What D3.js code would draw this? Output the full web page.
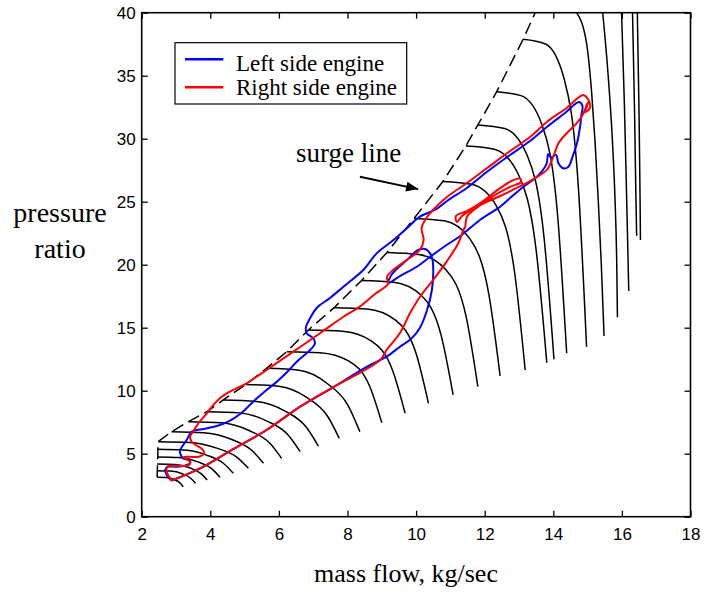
<!DOCTYPE html>
<html><head><meta charset="utf-8">
<script src="https://cdn.jsdelivr.net/npm/d3@7"></script>
<style>
body{margin:0;background:#fff;}
svg{display:block;}
</style></head><body>
<svg id="chart" width="704" height="594"></svg>
<script>
// ---------- data ----------
const xTicks = [2,4,6,8,10,12,14,16,18];
const yTicks = [0,5,10,15,20,25,30,35,40];
const xLabel = "mass flow, kg/sec";
const yLabelLines = ["pressure","ratio"];
const legendLabels = ["Left side engine","Right side engine"];
const surgeText = "surge line";
const surgeTextPos = [6.5, 28.17];
const arrowTail = [8.36, 26.98];
const arrowTip = [10.06, 26.0];

const surgeLine = [[2.45,3.13],[2.48,5.95],[2.87,6.75],[3.36,7.54],[3.90,8.33],[4.37,9.26],[5.04,10.49],[5.64,11.78],[6.23,13.10],[6.86,14.82],[7.61,16.59],[8.41,18.75],[9.15,20.97],[9.94,23.67],[10.78,26.60],[11.45,29.42],[11.80,31.09],[12.35,33.73],[13.12,37.89],[13.47,40]];

const speedLines = [
 [[2.45,3.13],[2.72,3.11],[2.94,2.95],[3.11,2.70],[3.21,2.38]],
 [[2.45,3.65],[2.84,3.62],[3.18,3.41],[3.42,3.07],[3.57,2.65]],
 [[2.45,4.18],[2.96,4.14],[3.40,3.88],[3.72,3.44],[3.91,2.91]],
 [[2.45,4.74],[3.09,4.69],[3.64,4.35],[4.04,3.81],[4.28,3.13]],
 [[2.45,5.35],[3.23,5.29],[3.89,4.89],[4.38,4.24],[4.67,3.44]],
 [[2.48,5.95],[3.40,5.89],[4.19,5.44],[4.77,4.73],[5.11,3.84]],
 [[2.87,6.75],[3.81,6.67],[4.61,6.15],[5.20,5.29],[5.55,4.24]],
 [[3.36,7.54],[4.31,7.45],[5.13,6.84],[5.73,5.85],[6.08,4.63]],
 [[3.90,8.33],[4.85,8.24],[5.67,7.57],[6.27,6.49],[6.62,5.16]],
 [[4.37,9.26],[5.34,9.15],[6.18,8.38],[6.79,7.14],[7.15,5.61]],
 [[5.04,10.49],[5.99,10.36],[6.81,9.47],[7.41,8.01],[7.76,6.22]],
 [[5.64,11.78],[6.59,11.63],[7.41,10.57],[8.01,8.86],[8.36,6.75]],
 [[6.23,13.10],[7.20,13.02],[8.03,12.37],[8.64,10.39],[9.00,7.46]],
 [[6.86,14.82],[7.85,14.72],[8.69,13.96],[9.31,11.65],[9.68,8.21]],
 [[7.61,16.59],[8.57,16.48],[9.40,15.60],[10.00,12.95],[10.36,9.00]],
 [[8.41,18.75],[9.35,18.61],[10.15,17.57],[10.73,14.39],[11.08,9.66]],
 [[9.15,20.97],[10.08,20.81],[10.87,19.59],[11.46,15.86],[11.80,10.32]],
 [[9.94,23.67],[10.82,23.48],[11.57,22.05],[12.12,17.67],[12.45,11.17]],
 [[10.78,26.60],[11.62,26.38],[12.34,24.66],[12.87,19.42],[13.18,11.64]],
 [[11.45,29.42],[12.28,29.16],[12.98,27.18],[13.50,21.16],[13.81,12.22]],
 [[11.80,31.09],[12.58,30.81],[13.24,28.67],[13.73,22.16],[14.02,12.49]],
 [[12.35,33.73],[13.06,33.42],[13.68,31.03],[14.13,23.77],[14.39,12.97]],
 [[13.12,37.89],[13.77,37.52],[14.32,34.72],[14.73,26.18],[14.97,13.49]],
 [[14.68,40],[14.97,37.57],[15.12,33.6],[15.22,29.63],[15.31,25.13],[15.40,20.0],[15.48,14.34]],
 [[15.44,40],[15.60,35],[15.72,30],[15.80,25.13],[15.85,20],[15.87,15.83]],
 [[15.99,40],[16.07,33],[16.14,25.13],[16.20,17.91]],
 [[16.31,40],[16.37,32],[16.41,25.13],[16.43,22.3]],
 [[16.45,40],[16.50,32],[16.53,25.13],[16.54,21.96]]
];

const leftEngine = [[2.87,2.86],[2.73,3.31],[2.68,3.71],[2.78,3.97],[3.02,3.97],[3.26,4.05],[3.41,4.24],[3.39,4.50],[3.21,4.63],[3.12,5.03],[3.12,5.29],[3.21,5.69],[3.31,6.09],[3.46,6.75],[3.75,6.94],[4.19,7.20],[4.52,7.54],[4.87,8.15],[5.25,9.13],[5.64,10.06],[5.94,10.71],[6.24,11.48],[6.52,12.30],[6.91,13.23],[7.05,13.76],[7.00,14.16],[6.81,14.56],[6.79,15.08],[6.91,15.75],[7.10,16.56],[7.49,17.36],[7.88,18.25],[8.46,19.58],[8.85,20.90],[9.34,21.96],[9.73,22.89],[10.11,23.81],[10.60,24.42],[10.90,25.06],[11.48,26.09],[12.06,27.36],[12.74,28.71],[13.32,29.82],[13.81,30.93],[14.34,32.04],[14.75,32.91],[14.85,32.60],[14.82,31.88],[14.78,30.95],[14.69,29.63],[14.56,28.55],[14.44,27.78],[14.29,27.65],[14.15,28.05],[14.08,28.71],[13.93,28.51],[13.85,28.79],[13.80,27.99],[13.52,26.98],[13.13,26.19],[12.74,25.29],[12.45,24.60],[11.86,23.55],[11.33,22.36],[10.89,21.56],[10.41,20.63],[10.02,19.84],[9.53,19.10],[9.18,18.52],[9.30,19.26],[9.73,20.37],[10.06,21.17],[10.26,21.25],[10.45,20.69],[10.50,19.58],[10.46,17.99],[10.32,16.40],[10.11,14.98],[9.85,14.10],[9.53,13.49],[9.14,12.70],[8.56,11.90],[7.59,10.29],[6.62,8.73],[5.64,6.88],[4.57,5.21],[3.70,3.83],[2.87,2.86]];

const rightEngine = [[2.87,2.86],[2.73,3.57],[2.74,3.97],[3.12,4.02],[3.36,4.06],[3.41,4.37],[3.26,4.63],[3.23,4.74],[3.67,4.76],[3.82,5.03],[3.76,5.37],[3.60,5.65],[3.46,5.95],[3.41,6.35],[3.50,6.75],[3.64,7.36],[3.90,8.21],[4.09,8.87],[4.28,9.40],[4.48,9.79],[4.77,10.19],[5.06,10.59],[5.35,11.11],[5.64,11.64],[6.42,13.10],[7.20,14.56],[7.88,15.87],[8.36,16.67],[8.80,17.67],[9.18,18.47],[9.15,19.02],[9.33,19.58],[9.73,20.37],[10.11,21.17],[10.22,21.96],[10.16,22.91],[10.32,23.79],[10.49,24.34],[10.90,25.37],[11.48,26.48],[12.07,27.67],[12.74,29.02],[13.32,30.13],[13.81,31.33],[14.39,32.44],[14.87,33.47],[15.01,33.15],[15.07,32.44],[14.92,32.12],[15.04,32.99],[14.90,32.04],[14.98,32.75],[14.87,31.96],[14.68,31.22],[14.39,30.43],[14.15,29.63],[14.00,28.57],[13.81,27.52],[13.42,26.80],[12.93,26.09],[12.45,25.45],[12.06,24.98],[11.63,24.40],[11.34,23.87],[11.19,23.39],[11.16,23.87],[11.48,24.26],[11.87,24.89],[12.45,26.08],[12.83,26.71],[13.03,26.84],[13.06,26.56],[12.74,26.17],[12.16,25.29],[11.72,24.42],[11.48,23.79],[11.43,22.99],[11.38,22.75],[11.23,21.70],[10.89,20.24],[10.50,18.79],[10.11,17.44],[9.82,16.14],[9.53,14.58],[9.14,13.23],[8.95,12.44],[7.59,10.29],[6.62,8.73],[5.64,6.88],[4.57,5.21],[3.70,3.83],[2.87,2.86]];

// ---------- drawing ----------
const svg = d3.select("#chart");
const M = {left:141.7, right:690.5, top:12.7, bottom:516.7};
const x = d3.scaleLinear().domain([2,18]).range([M.left, M.right]);
const y = d3.scaleLinear().domain([0,40]).range([M.bottom, M.top]);
const serif = "'Liberation Serif','Times New Roman',Times,serif";
const sans = "'Liberation Sans',Arial,Helvetica,sans-serif";

const defs = svg.append("defs");
defs.append("clipPath").attr("id","clip").append("rect")
  .attr("x",M.left).attr("y",M.top).attr("width",M.right-M.left).attr("height",M.bottom-M.top);
defs.append("marker").attr("id","arrowhead").attr("viewBox","0 0 12 10")
  .attr("refX",12).attr("refY",5).attr("markerWidth",13).attr("markerHeight",10)
  .attr("markerUnits","userSpaceOnUse").attr("orient","auto")
  .append("path").attr("d","M0,0L12,5L0,10Z").attr("fill","#000");

const plot = svg.append("g").attr("clip-path","url(#clip)");

const mono = d3.line().x(d=>x(d[0])).y(d=>y(d[1])).curve(d3.curveMonotoneX);
plot.selectAll("path.speed").data(speedLines).join("path").attr("class","speed")
  .attr("d",mono).attr("fill","none").attr("stroke","#000").attr("stroke-width",1.5);

const lin = d3.line().x(d=>x(d[0])).y(d=>y(d[1]));
plot.append("path").attr("d",lin(surgeLine)).attr("fill","none").attr("stroke","#000")
  .attr("stroke-width",1.5).attr("stroke-dasharray","12,6");

const traj = d3.line().x(d=>x(d[0])).y(d=>y(d[1])).curve(d3.curveCatmullRom.alpha(0.5));
plot.append("path").attr("d",traj(leftEngine)).attr("fill","none").attr("stroke","#0000ff")
  .attr("stroke-width",2).attr("stroke-linejoin","round");
plot.append("path").attr("d",traj(rightEngine)).attr("fill","none").attr("stroke","#ff0000")
  .attr("stroke-width",2).attr("stroke-linejoin","round");

// axes
function styleAxis(g){
  g.select(".domain").remove();
  g.selectAll(".tick line").attr("stroke","#000").attr("stroke-width",1.3);
  g.selectAll(".tick text").attr("font-family",sans).attr("font-size",17).attr("fill","#000");
}
svg.append("g").attr("transform",`translate(0,${M.bottom})`)
  .call(d3.axisBottom(x).tickValues(xTicks).tickSizeInner(-6).tickSizeOuter(0).tickPadding(11).tickFormat(d3.format("d")))
  .call(styleAxis);
svg.append("g").attr("transform",`translate(0,${M.top})`)
  .call(d3.axisTop(x).tickValues(xTicks).tickSizeInner(-6).tickSizeOuter(0).tickFormat(""))
  .call(styleAxis);
svg.append("g").attr("transform",`translate(${M.left},0)`)
  .call(d3.axisLeft(y).tickValues(yTicks).tickSizeInner(-6).tickSizeOuter(0).tickPadding(6).tickFormat(d3.format("d")))
  .call(styleAxis);
svg.append("g").attr("transform",`translate(${M.right},0)`)
  .call(d3.axisRight(y).tickValues(yTicks).tickSizeInner(-6).tickSizeOuter(0).tickFormat(""))
  .call(styleAxis);
svg.append("rect").attr("x",M.left).attr("y",M.top).attr("width",M.right-M.left).attr("height",M.bottom-M.top)
  .attr("fill","none").attr("stroke","#000").attr("stroke-width",1.6);

// surge annotation
svg.append("line").attr("x1",x(arrowTail[0])).attr("y1",y(arrowTail[1]))
  .attr("x2",x(arrowTip[0])).attr("y2",y(arrowTip[1]))
  .attr("stroke","#000").attr("stroke-width",1.8).attr("marker-end","url(#arrowhead)");
svg.append("text").attr("x",x(surgeTextPos[0])).attr("y",y(surgeTextPos[1]))
  .attr("font-family",serif).attr("font-size",27).text(surgeText);

// axis labels
svg.append("text").attr("x",406).attr("y",582).attr("text-anchor","middle")
  .attr("font-family",serif).attr("font-size",26).text(xLabel);
svg.selectAll("text.ylab").data(yLabelLines).join("text").attr("class","ylab")
  .attr("x",60).attr("y",(d,i)=>222+i*36).attr("text-anchor","middle")
  .attr("font-family",serif).attr("font-size",28).text(d=>d);

// legend
const leg = svg.append("g");
leg.append("rect").attr("x",175).attr("y",42.7).attr("width",231.7).attr("height",61.3)
  .attr("fill","#fff").attr("stroke","#000").attr("stroke-width",1.2);
const legColors = ["#0000ff","#ff0000"];
legendLabels.forEach((lab,i)=>{
  const ly = 59.3 + i*28;
  leg.append("line").attr("x1",185).attr("x2",223.3).attr("y1",ly).attr("y2",ly)
    .attr("stroke",legColors[i]).attr("stroke-width",2.6);
  leg.append("text").attr("x",236).attr("y",71+i*23.5).attr("font-family",serif)
    .attr("font-size",23).text(lab);
});
</script>
</body></html>
